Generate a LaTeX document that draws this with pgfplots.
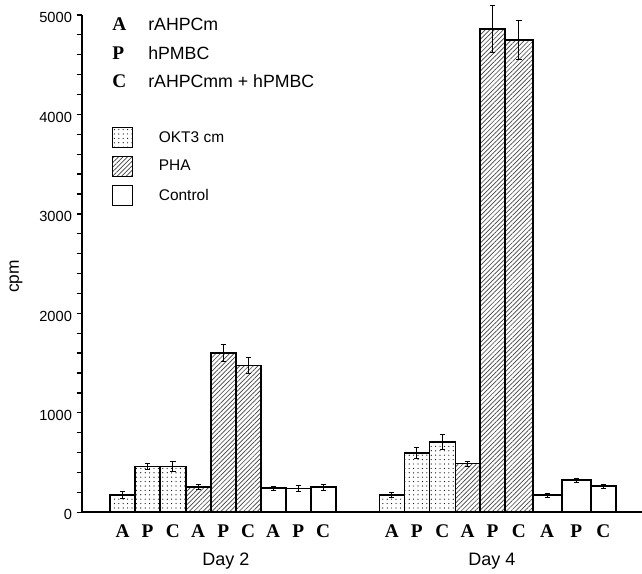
\documentclass[border=0pt]{standalone}
\usepackage{pgfplots}
\pgfplotsset{compat=1.18}
\usepackage{fontspec}
\setmainfont{Liberation Sans}
\newfontfamily\serifb{Liberation Serif}
\usetikzlibrary{patterns.meta}
\begin{document}
\begin{tikzpicture}
\path[use as bounding box] (0pt,0pt) rectangle (481.5pt,430.5pt);
\begin{axis}[
  at={(61.5pt,46.3pt)}, anchor=south west,
  scale only axis, width=420pt, height=373pt,
  xmin=82, xmax=642, ymin=0, ymax=5000,
  clip=false,
  axis x line=bottom, axis y line=left,
  axis line style={-, line width=1.4pt},
  xtick={122.5,147.5,172.85,198.2,223.2,248.2,273.2,298.2,323.2,391.8,416.8,442.3,467.65,492.5,518.85,547.2,576.2,603.35},
  xticklabels={A,P,C,A,P,C,A,P,C,A,P,C,A,P,C,A,P,C},
  x tick style={draw=none},
  xticklabel style={font=\serifb\bfseries\fontsize{14.5}{15}\selectfont, yshift=-2pt},
  ytick={0,1000,2000,3000,4000,5000},
  minor y tick num=4,
  y tick style={line width=1pt, black},
  tick align=outside,
  major tick length=4pt, minor tick length=4pt,
  yticklabel style={font=\fontsize{11}{12}\selectfont, yshift=-2pt},
  /pgf/number format/assume math mode=true,
  /pgf/number format/set thousands separator={},
  legend image code/.code={\draw[#1,line width=0.7pt] (0pt,-7.5pt) rectangle (15pt,7.5pt); \path (34pt,0pt);},
  legend style={draw=none, fill=none, inner sep=0pt, at={(axis cs:112,3874)}, anchor=north west,
    row sep=6pt, cells={anchor=west}, nodes={inner sep=0pt}, font=\fontsize{11.6}{13}\selectfont},
]
% OKT3 cm
\addplot[ybar interval, draw=black, line width=1.2pt, pattern={Dots[distance=3.3pt, radius=0.45pt]}, pattern color=black]
  coordinates {(110,175) (135,462) (160,462) (185.7,0)};
\addlegendentry{OKT3 cm}
% PHA
\addplot[ybar interval, draw=black, line width=1.2pt, pattern={Lines[angle=45, distance=2.4pt, line width=0.5pt]}, pattern color=black!75]
  coordinates {(185.7,255) (210.7,1600) (235.7,1475) (260.7,0)};
\addlegendentry{PHA}
% Control
\addplot[ybar interval, draw=black, line width=1.2pt, fill=white]
  coordinates {(260.7,241) (285.7,238) (310.7,251) (335.7,0)};
\addlegendentry{Control}
% Day 4
\addplot[forget plot, ybar interval, draw=black, line width=1.2pt, pattern={Dots[distance=3.3pt, radius=0.45pt]}, pattern color=black]
  coordinates {(379.3,174) (404.3,596) (429.3,704) (455.3,0)};
\addplot[forget plot, ybar interval, draw=black, line width=1.2pt, pattern={Lines[angle=45, distance=2.4pt, line width=0.5pt]}, pattern color=black!75]
  coordinates {(455.3,489) (480,4856) (505,4750) (532.7,0)};
\addplot[forget plot, ybar interval, draw=black, line width=1.2pt, fill=white]
  coordinates {(532.7,171) (561.7,322) (590.7,264) (616,0)};
% error bars
\addplot[forget plot, draw=none, mark=none,
  error bars/.cd, y dir=both, y explicit,
  error bar style={draw=black, line width=0.6pt},
  error mark options={draw=black, rotate=90, mark size=2pt, line width=0.6pt}]
  coordinates {
  (122.5,175) +- (0,35)
  (147.5,462) +- (0,28)
  (172.85,462) +- (0,50)
  (198.2,255) +- (0,22)
  (223.2,1600) +- (0,85)
  (248.2,1475) +- (0,80)
  (273.2,241) +- (0,18)
  (298.2,238) +- (0,28)
  (323.2,251) +- (0,30)
  (391.8,174) +- (0,25)
  (416.8,596) +- (0,55)
  (442.3,704) +- (0,75)
  (467.65,489) +- (0,25)
  (492.5,4856) +- (0,235)
  (518.85,4750) +- (0,200)
  (547.2,171) +- (0,22)
  (576.2,322) +- (0,20)
  (603.35,264) +- (0,20)
  };
% key
\node[anchor=west, inner sep=0pt, font=\serifb\bfseries\fontsize{14.5}{15}\selectfont] at (axis cs:112,4909) {A};
\node[anchor=west, inner sep=0pt, font=\serifb\bfseries\fontsize{14.5}{15}\selectfont] at (axis cs:112,4613) {P};
\node[anchor=west, inner sep=0pt, font=\serifb\bfseries\fontsize{14.5}{15}\selectfont] at (axis cs:112,4331) {C};
\node[anchor=west, inner sep=0pt, font=\fontsize{13.3}{15}\selectfont] at (axis cs:148,4909) {rAHPCm};
\node[anchor=west, inner sep=0pt, font=\fontsize{13.3}{15}\selectfont] at (axis cs:148,4613) {hPMBC};
\node[anchor=west, inner sep=0pt, font=\fontsize{13.3}{15}\selectfont] at (axis cs:148,4331) {rAHPCmm + hPMBC};
% labels
\node[font=\fontsize{13.5}{15}\selectfont] at (axis cs:226,-495) {Day 2};
\node[font=\fontsize{13.5}{15}\selectfont] at (axis cs:492,-495) {Day 4};
\node[rotate=90, font=\fontsize{13}{14}\selectfont] at (axis cs:16,2370) {cpm};
\end{axis}
\end{tikzpicture}
\end{document}
